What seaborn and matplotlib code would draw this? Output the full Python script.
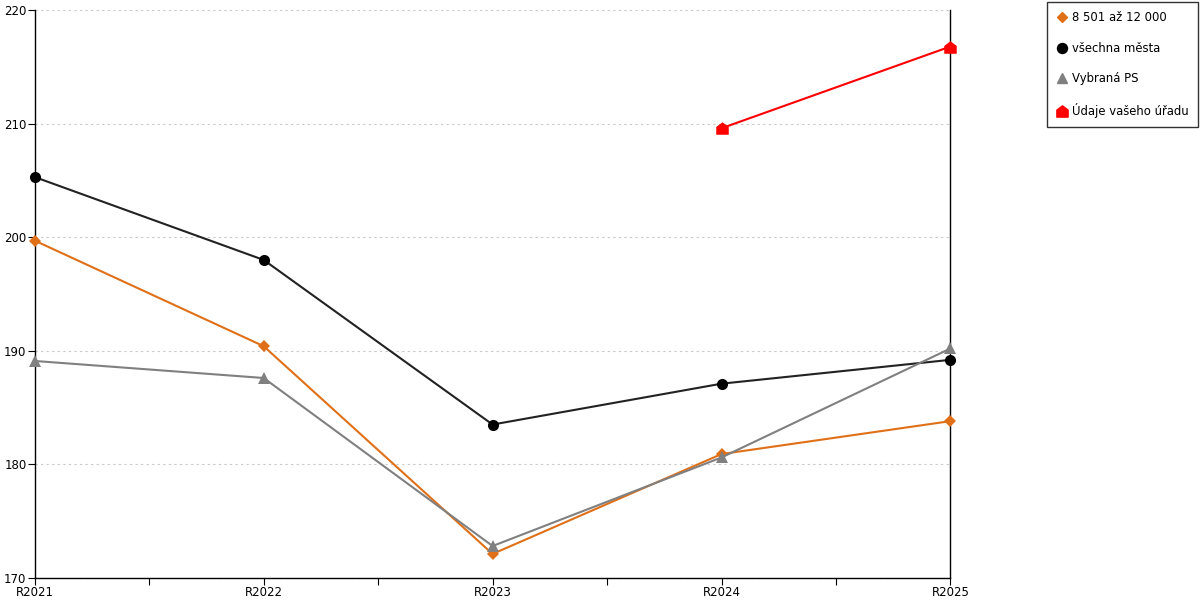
import numpy as np
import pandas as pd
import matplotlib
matplotlib.use("Agg")
import matplotlib.pyplot as plt
from matplotlib.lines import Line2D
from matplotlib.path import Path
import seaborn as sns

sns.set_style("white")
plt.rcParams['font.family'] = ['DejaVu Sans']

# data
years = ['R2021', 'R2022', 'R2023', 'R2024', 'R2025']
velikost = [199.7, 190.4, 172.1, 180.9, 183.8]
vsechna = [205.3, 198.0, 183.5, 187.1, 189.2]
vybrana = [189.1, 187.6, 172.8, 180.6, 190.2]
urad_years = ['R2024', 'R2025']
urad = [209.6, 216.8]

names = ['8 501 až 12 000', 'všechna města', 'Vybraná PS', 'Údaje vašeho úřadu']
colors = ['#E07018', '#000000', '#808080', '#FF0000']

# house-shaped marker
house = Path([(-1, -1), (1, -1), (1, 0.25), (0, 1), (-1, 0.25), (-1, -1)],
             [Path.MOVETO, Path.LINETO, Path.LINETO, Path.LINETO, Path.LINETO, Path.CLOSEPOLY])
markers = ['D', 'o', '^', house]
msizes = [6, 8, 8, 9]

pos = {y: i for i, y in enumerate(years)}
frames = [
    pd.DataFrame({'x': [pos[y] for y in years], 'v': velikost}),
    pd.DataFrame({'x': [pos[y] for y in years], 'v': vsechna}),
    pd.DataFrame({'x': [pos[y] for y in years], 'v': vybrana}),
    pd.DataFrame({'x': [pos[y] for y in urad_years], 'v': urad}),
]

fig = plt.figure(figsize=(12, 6), dpi=100)
ax = fig.add_axes([0.029, 0.037, 0.763, 0.946])

for d, c, m, ms in zip(frames, colors, markers, msizes):
    lc = '#222222' if c == '#000000' else c
    sns.lineplot(data=d, x='x', y='v', ax=ax, color=lc, linewidth=1.5,
                 marker=m, markersize=ms, markerfacecolor=c, markeredgecolor=c,
                 markeredgewidth=0, zorder=3, clip_on=False)

ax.set_xlim(0, 4)
ax.set_ylim(170, 220)
ax.set_yticks(np.arange(170, 221, 10))
ax.set_xticks(range(len(years)))
ax.set_xticklabels(years)
ax.set_xticks(np.arange(0.5, 4, 1), minor=True)
ax.set_xlabel('')
ax.set_ylabel('')
ax.yaxis.grid(True, color='#c8c8c8', linestyle=(0, (2, 3)), linewidth=0.8)
ax.xaxis.grid(False)
ax.tick_params(axis='both', which='both', direction='out', length=5, width=0.8,
               labelsize=8.5, color='black', labelcolor='black',
               bottom=True, left=True, pad=1)
ax.tick_params(axis='x', which='minor', length=5)
for s in ['left', 'bottom', 'right']:
    ax.spines[s].set_visible(True)
    ax.spines[s].set_color('black')
    ax.spines[s].set_linewidth(1)
ax.spines['top'].set_visible(False)

handles = [Line2D([], [], linestyle='none', marker=m, color=c, markersize=ms * 0.9)
           for m, c, ms in zip(markers, colors, msizes)]
leg = fig.legend(handles, names, loc='upper right', bbox_to_anchor=(0.998, 0.997),
                 frameon=True, fancybox=False, edgecolor='black', fontsize=8.4,
                 handletextpad=0.3, handlelength=1.0, labelspacing=1.5,
                 borderpad=0.8, borderaxespad=0)
leg.get_frame().set_linewidth(1)
for t in leg.get_texts():
    t.set_color('black')

fig.savefig('out.png', dpi=100)
